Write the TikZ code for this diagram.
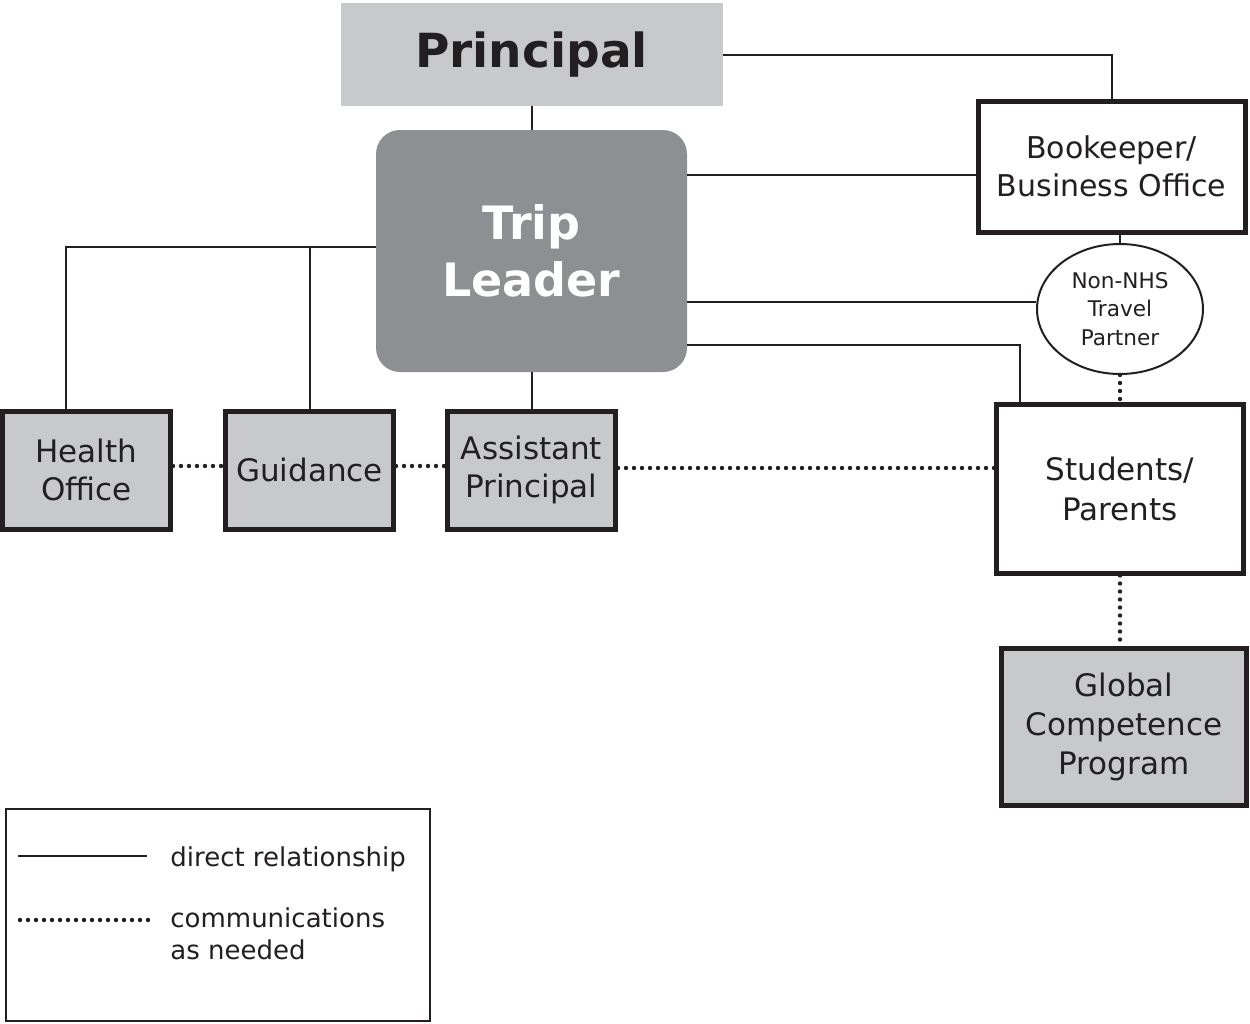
\documentclass[tikz,border=0pt]{standalone}
\usepackage{fontspec}
\setmainfont{DejaVu Sans}
\usetikzlibrary{positioning,shapes.geometric}

\definecolor{ink}{HTML}{231F20}
\definecolor{lightbox}{HTML}{C8C9CB}
\definecolor{darkbox}{HTML}{8E8F92}

\tikzset{
	office/.style={rectangle,draw=ink,line width=2.5pt,fill=lightbox,text=ink,align=center,inner sep=0pt,
		minimum width=84pt,minimum height=59pt,font=\fontsize{15.5}{19}\selectfont},
	plainbox/.style={office,fill=white},
	head/.style={rectangle,fill=lightbox,text=ink,inner sep=0pt,minimum width=191pt,minimum height=51.5pt,
		font=\fontsize{23.5}{28}\selectfont\bfseries},
	leader/.style={rectangle,rounded corners=12pt,fill=darkbox,text=white,align=center,inner sep=0pt,
		minimum width=155.5pt,minimum height=121pt,font=\fontsize{23}{28.5}\selectfont\bfseries},
	partner/.style={ellipse,draw=ink,line width=1pt,fill=white,text=ink,align=center,inner sep=0pt,
		minimum width=83pt,minimum height=65pt,font=\fontsize{10.8}{14.2}\selectfont},
	rel/.style={draw=ink,line width=1pt},
	comm/.style={draw=ink,line width=2.2pt,line cap=round,dash pattern=on 0pt off 4pt},
	legendtext/.style={anchor=west,inner sep=0pt,text=ink,align=left,font=\fontsize{13}{16}\selectfont}
}

\begin{document}
\begin{tikzpicture}[x=0.5pt,y=-0.5pt,on grid]
	\useasboundingbox (0,0) rectangle (1250,1024);

	\node[leader] (trip) at (531.5,251) {Trip\\Leader};
	\node[head] (principal) [above=98.25pt of trip] {Principal};
	\node[office] (assist) [below=109.5pt of trip] {Assistant\\Principal};
	\node[office] (guide) [left=111pt of assist] {Guidance};
	\node[office] (health) [left=111.5pt of guide] {Health\\Office};
	\node[plainbox,minimum width=133.5pt,minimum height=65.5pt,font=\fontsize{15}{19}\selectfont]
		(book) [above right=42.25pt and 290pt of trip] {Bookeeper/\\Business Office};
	\node[partner] (partner) [below right=71.25pt and 4.25pt of book] {Non-NHS\\Travel\\Partner};
	\node[plainbox,minimum width=123.5pt,minimum height=84.5pt,font=\fontsize{15.5}{20}\selectfont]
		(students) [below=89.75pt of partner] {Students/\\Parents};
	\node[office,minimum width=122.5pt,minimum height=78.5pt,font=\fontsize{15.5}{19.5}\selectfont]
		(global) [below right=119pt and 2pt of students] {Global\\Competence\\Program};

	% direct relationships
	\coordinate (t1) at ([yshift=38pt]trip.east);
	\coordinate (t2) at ([yshift=-25.5pt]trip.east);
	\coordinate (t3) at ([yshift=-47pt]trip.east);
	\coordinate (t4) at ([yshift=2pt]trip.west);

	\path[rel]
	(principal) -- (trip)
	(principal.east) -| (book.north)
	(t1) -- (t1 -| book.west)
	(partner.north) -- (partner.north |- book.south)
	(t2) -- (t2 -| partner.west)
	(t3) -| ([xshift=13pt]students.north west)
	(t4) -| ([xshift=-10.5pt]health.north)
	(guide.north) -- (guide.north |- t4)
	(trip.south) -- (assist.north);

	% communications as needed
	\path[comm]
	([yshift=2pt]health.east) -- ([yshift=2pt]guide.west)
	([yshift=2pt]guide.east) -- ([yshift=2pt]assist.west)
	([yshift=1pt]assist.east) -- ([yshift=1pt]assist.east -| students.west)
	(partner.south) -- (students.north)
	(students.south) -- (students.south |- global.north);

	% legend
	\node[draw=ink,line width=1pt,minimum width=212pt,minimum height=106pt,inner sep=0pt] (legend) at (218,915) {};
	\coordinate (solidA) at (18,856);
	\coordinate (solidB) at (147,856);
	\coordinate (dotA) at (20,920);
	\coordinate (dotB) at (150,920);
	\path[rel] (solidA) -- (solidB);
	\path[comm] (dotA) -- (dotB);
	\node[legendtext] (direct) at (170,859) {direct relationship};
	\node[legendtext] (needed) at (170,934) {communications\\as needed};
\end{tikzpicture}
\end{document}
